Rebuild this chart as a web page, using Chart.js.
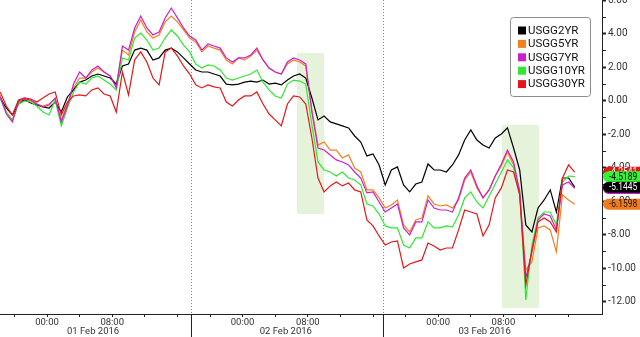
<!DOCTYPE html>
<html><head><meta charset="utf-8">
<script src="https://cdn.jsdelivr.net/npm/chart.js@4.4.1/dist/chart.umd.min.js"></script>
<style>html,body{margin:0;padding:0;background:#fff;overflow:hidden}#wrap{width:640px;height:337px}</style>
</head><body><div id="wrap"><canvas id="c" width="640" height="337"></canvas></div>
<script>
// ---- data (hours since 01 Feb 2016 00:00, regular sample grid) ----
const seriesNames = ['USGG2YR','USGG5YR','USGG7YR','USGG10YR','USGG30YR'];
const T0 = -5.75, STEP = 0.75;
const usgg2 = [0.18,-0.42,-0.84,-0.18,0.06,-0.12,-0.24,-0.36,-0.42,-0.06,
 -0.66,0.24,0.66,1.13,1.25,1.49,1.61,1.49,1.37,1.01,
 2.09,2.21,3.04,3.16,3.04,2.45,2.57,3.04,3.16,2.93,
 2.57,2.21,1.85,1.73,1.73,1.61,1.49,1.01,0.96,1.01,
 1.13,1.19,1.13,1.25,1.01,1.07,0.96,1.25,1.49,1.61,
 1.37,0.18,-1.13,-0.90,-1.25,-1.37,-1.49,-1.61,-2.09,-2.45,
 -3.28,-3.16,-3.82,-5.01,-4.12,-3.94,-5.01,-5.43,-4.96,-4.84,
 -3.76,-4.12,-4.12,-4.24,-3.82,-3.22,-2.33,-1.73,-2.33,-2.63,
 -2.81,-2.21,-1.97,-1.61,-2.81,-4.12,-7.40,-7.82,-6.39,-5.91,
 -5.31,-6.63,-4.60,-4.60,-5.1445];
const usgg5 = [0.36,-0.66,-1.13,-0.06,0.06,0.00,-0.18,-0.30,-0.18,0.12,
 -1.13,-0.18,0.78,1.37,1.37,1.73,1.97,1.73,1.49,0.90,
 3.04,2.75,4.12,4.84,4.12,3.76,3.94,4.72,5.07,4.72,
 4.24,3.76,3.52,2.93,3.28,3.16,3.04,2.45,2.21,2.57,
 2.45,2.69,3.04,2.45,1.97,1.73,1.61,2.21,2.45,2.33,
 2.09,-0.54,-2.63,-2.45,-2.93,-2.93,-3.40,-3.22,-4.00,-4.24,
 -5.31,-5.31,-5.79,-6.39,-6.21,-5.91,-7.40,-7.82,-7.10,-6.99,
 -5.67,-6.15,-6.27,-6.21,-6.39,-5.91,-4.72,-4.24,-5.19,-5.79,
 -5.31,-4.48,-3.88,-3.04,-3.82,-5.61,-10.09,-9.61,-7.58,-7.46,
 -7.70,-9.01,-5.61,-5.91,-6.1598];
const usgg7 = [0.24,-0.78,-1.25,0.00,0.12,0.06,-0.18,-0.36,-0.24,0.18,
 -1.25,-0.30,1.01,1.73,1.37,1.85,2.09,1.73,1.49,0.78,
 3.28,3.04,4.36,5.07,4.36,3.94,4.12,4.96,5.55,4.96,
 4.36,3.88,3.64,3.04,3.40,3.28,3.16,2.57,2.33,2.57,
 2.57,2.75,3.16,2.45,1.97,1.73,1.61,2.33,2.57,2.45,
 2.21,-0.66,-2.81,-2.93,-3.22,-3.52,-3.64,-3.82,-4.24,-4.60,
 -5.49,-5.43,-6.03,-6.63,-6.39,-6.15,-7.58,-8.00,-7.22,-7.22,
 -5.91,-6.39,-6.51,-6.51,-6.63,-5.79,-4.60,-4.12,-5.07,-5.79,
 -5.31,-4.48,-3.76,-2.93,-3.64,-5.43,-10.57,-9.01,-7.10,-6.75,
 -6.87,-7.70,-5.01,-4.84,-5.2233];
const usgg10 = [0.18,-0.66,-1.19,-0.18,0.00,-0.06,-0.30,-0.66,-0.84,0.06,
 -1.49,-0.42,0.54,1.13,1.01,1.37,1.49,1.25,1.01,0.66,
 2.57,2.45,3.76,4.06,3.64,3.04,3.16,3.76,4.24,3.88,
 3.34,2.93,2.21,1.97,2.15,2.09,1.85,1.37,1.25,1.37,
 1.49,1.61,1.85,1.13,0.66,0.30,0.18,1.01,1.25,1.19,
 1.01,-1.43,-3.64,-4.12,-4.24,-4.48,-4.24,-4.60,-4.72,-5.01,
 -6.15,-6.27,-6.75,-7.46,-7.58,-7.58,-8.60,-8.78,-8.18,-8.18,
 -7.22,-7.58,-7.58,-7.46,-7.52,-6.81,-5.79,-5.43,-6.03,-6.39,
 -5.67,-4.96,-4.24,-3.52,-4.00,-5.31,-11.88,-8.60,-6.99,-6.63,
 -6.63,-7.40,-4.84,-4.48,-4.5189];
const usgg30 = [0.54,-0.30,-0.84,0.06,0.18,0.12,-0.06,0.18,0.42,0.54,
 -0.84,-0.06,0.30,0.36,0.30,0.66,0.78,0.42,0.30,-0.66,
 1.73,0.36,2.45,2.93,2.33,1.37,0.96,2.93,3.16,2.69,
 2.09,1.61,0.96,0.78,0.96,0.84,0.78,-0.06,-0.30,0.06,
 0.30,0.30,0.54,-0.18,-0.78,-1.13,-1.49,-0.18,0.30,0.24,
 -0.18,-2.21,-4.60,-5.43,-5.07,-4.84,-5.07,-4.90,-5.31,-5.43,
 -7.10,-7.46,-8.06,-8.60,-8.42,-8.36,-9.97,-9.73,-9.61,-9.49,
 -8.48,-8.66,-8.90,-8.78,-8.78,-7.70,-6.51,-6.63,-6.75,-8.06,
 -7.40,-5.79,-5.19,-4.12,-4.24,-5.61,-10.99,-8.90,-7.22,-6.99,
 -7.22,-7.82,-4.60,-3.82,-4.2541];
const seriesData = [usgg2, usgg5, usgg7, usgg10, usgg30];
const times = usgg2.map((_, i) => T0 + i * STEP);

const xTickHours = [-4,0,4,8,12,16,20,24,28,32,36,40,44,48,52,56,60,64];
const xTickLabels = {0:'00:00', 8:'08:00', 24:'00:00', 32:'08:00', 48:'00:00', 56:'08:00'};
const dateLabels = ['01 Feb 2016','02 Feb 2016','03 Feb 2016'];
const dateCenters = [5.65, 29.3, 53.7];
const daySeparators = [17.67, 41.25];
const yTicks = [-12,-11,-10,-9,-8,-7,-6,-5,-4,-3,-2,-1,0,1,2,3,4,5,6];
const highlightTimes = [[30.67, 33.99], [55.83, 60.37]];
const highlightValues = [[2.87, -6.75], [-1.43, -12.36]];

// ---- styles ----
const lineColors = ['#000000','#f2801f','#cc1fcc','#2fe82f','#e4161a'];
const tagColors  = ['#000000','#f07a1c','#c81ec8','#33f533','#e4161a'];
const tagText    = ['#ffffff','#1a1a1a','#ffffff','#000000','#ffffff'];
const drawOrder  = [4,5,2,3,1];
const tagOrder   = [4,2,3,0,1];

const F = 'Roboto, "Liberation Sans", sans-serif';

const bgPlugin = {
  id:'bg',
  beforeDraw(chart){
    const c = chart.ctx; c.save(); c.fillStyle='#fff'; c.fillRect(0,0,chart.width,chart.height); c.restore();
  },
  beforeDatasetsDraw(chart){
    const c = chart.ctx, xs = chart.scales.x, ys = chart.scales.y, a = chart.chartArea;
    c.save();
    c.fillStyle = '#e6f3db';
    highlightTimes.forEach((t, k) => {
      const x0 = xs.getPixelForValue(t[0]), x1 = xs.getPixelForValue(t[1]);
      const y0 = ys.getPixelForValue(highlightValues[k][0]), y1 = ys.getPixelForValue(highlightValues[k][1]);
      c.fillRect(x0, y0, x1 - x0, y1 - y0);
    });
    c.strokeStyle = '#8a8a8a'; c.lineWidth = 1; c.setLineDash([1,2]);
    daySeparators.forEach(h => {
      const x = Math.round(xs.getPixelForValue(h)) + 0.5;
      c.beginPath(); c.moveTo(x, a.top); c.lineTo(x, a.bottom); c.stroke();
    });
    c.restore();
  }
};

const overlayPlugin = {
  id:'overlay',
  afterDraw(chart){
    const c = chart.ctx, xs = chart.scales.x, ys = chart.scales.y, a = chart.chartArea;
    c.save();
    // day separators below axis
    c.strokeStyle = '#222'; c.lineWidth = 1;
    daySeparators.forEach(h => {
      const x = Math.round(xs.getPixelForValue(h)) + 0.5;
      c.beginPath(); c.moveTo(x, a.bottom); c.lineTo(x, chart.height); c.stroke();
    });
    // date labels
    c.fillStyle = '#333'; c.font = '9.5px ' + F; c.textAlign = 'center'; c.textBaseline = 'middle';
    dateLabels.forEach((t, k) => c.fillText(t, xs.getPixelForValue(dateCenters[k]), 332));
    // last value tags
    c.font = '10px ' + F; c.textAlign = 'left';
    tagOrder.forEach(k => {
      const d = seriesData[k], v = d[d.length - 1];
      const y = ys.getPixelForValue(v), h = 11, r = h / 2, x0 = a.right + 1;
      c.beginPath();
      c.moveTo(chart.width, y - r);
      c.lineTo(x0 + r, y - r);
      c.arc(x0 + r, y, r, -Math.PI / 2, Math.PI / 2, true);
      c.lineTo(chart.width, y + r);
      c.closePath();
      c.fillStyle = tagColors[k]; c.fill();
      c.fillStyle = tagText[k];
      c.save();
      c.translate(x0 + 6, y + 0.5);
      c.scale(0.84, 1);
      c.fillText(v.toFixed(4), 0, 0);
      c.restore();
    });
    // legend
    const lx = 510.5, ly = 17.5, lw = 80, lh = 79;
    c.beginPath();
    c.roundRect(lx, ly, lw, lh, 3);
    c.fillStyle = '#fff'; c.fill();
    c.strokeStyle = '#8c8c8c'; c.lineWidth = 1; c.stroke();
    c.font = '11.5px ' + F; c.textAlign = 'left'; c.textBaseline = 'middle';
    seriesNames.forEach((n, k) => {
      const yy = 30.5 + k * 13.4;
      c.fillStyle = lineColors[k];
      c.fillRect(518, yy - 4, 8, 8);
      c.fillStyle = '#111';
      c.fillText(n, 528, yy + 0.5);
    });
    c.restore();
  }
};

new Chart(document.getElementById('c'), {
  type: 'line',
  data: {
    datasets: seriesNames.map((n, k) => ({
      label: n,
      data: seriesData[k].map((v, i) => ({x: times[i], y: v})),
      borderColor: lineColors[k],
      borderWidth: 1.2,
      pointRadius: 0,
      tension: 0,
      fill: false,
      order: drawOrder[k]
    }))
  },
  options: {
    animation: false, responsive: false, devicePixelRatio: 1,
    layout: {padding: 0},
    plugins: {legend: {display: false}, tooltip: {enabled: false}},
    scales: {
      x: {
        type: 'linear', position: 'bottom', min: -5.77, max: 68.1,
        afterBuildTicks: s => { s.ticks = xTickHours.map(v => ({value: v})); },
        afterFit: s => { s.height = 23; s.paddingLeft = 0; s.paddingRight = 0; },
        grid: {drawOnChartArea: false, drawTicks: true, tickLength: 3, color: '#222'},
        border: {color: '#222', width: 1},
        ticks: {autoSkip: false, maxRotation: 0, minRotation: 0, padding: 0,
          font: {family: F, size: 9.5}, color: '#333',
          callback: v => xTickLabels[v] !== undefined ? xTickLabels[v] : ''}
      },
      y: {
        type: 'linear', position: 'right', min: -12.72, max: 6.03,
        afterBuildTicks: s => { s.ticks = yTicks.map(v => ({value: v})); },
        afterFit: s => { s.width = 38; s.paddingTop = 0; s.paddingBottom = 0; },
        grid: {drawOnChartArea: false, drawTicks: true, tickLength: 4, color: '#222',
          tickWidth: ctx => (ctx.tick && ctx.tick.value % 2 === 0) ? 2 : 1},
        border: {color: '#222', width: 1},
        ticks: {autoSkip: false, padding: 2, font: {family: F, size: 10}, color: '#333',
          callback: v => (v % 2 === 0) ? v.toFixed(2) : ''}
      }
    }
  },
  plugins: [bgPlugin, overlayPlugin]
});
</script>
</body></html>
